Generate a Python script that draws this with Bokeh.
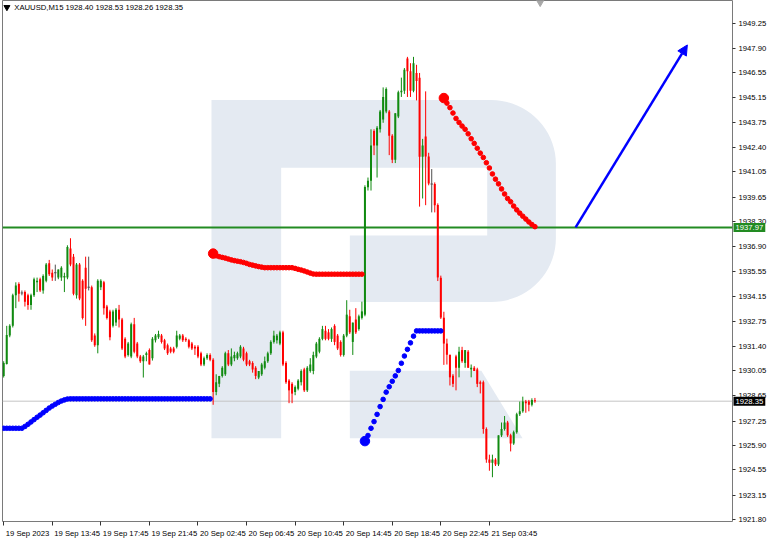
import numpy as np
from bokeh.plotting import figure
from bokeh.models import (Range1d, FixedTicker, Span, Label, Arrow, NormalHead,
                          ColumnDataSource, PrintfTickFormatter)
from bokeh.embed import file_html
from bokeh.resources import INLINE

# ---------------- data ----------------
symbol = "XAUUSD,M15"

time_labels = ["19 Sep 2023", "19 Sep 13:45", "19 Sep 17:45", "19 Sep 21:45",
               "20 Sep 02:45", "20 Sep 06:45", "20 Sep 10:45", "20 Sep 14:45",
               "20 Sep 18:45", "20 Sep 22:45", "21 Sep 03:45"]
time_label_bars = [0, 16, 32, 48, 64, 80, 96, 112, 128, 144, 160]

price_ticks = [1949.25, 1947.90, 1946.55, 1945.15, 1943.75, 1942.40, 1941.05,
               1939.65, 1938.30, 1936.90, 1935.55, 1934.15, 1932.75, 1931.40,
               1930.05, 1928.65, 1927.25, 1925.90, 1924.55, 1923.15, 1921.80]

opens = [1929.75, 1930.41, 1931.98, 1932.52, 1934.21, 1934.84, 1934.34, 1934.39, 1934.21, 1933.68,
         1934.21, 1934.93, 1935.10, 1934.48, 1935.01, 1935.99, 1935.46, 1935.46, 1935.19, 1935.19,
         1935.19, 1935.19, 1936.80, 1936.35, 1934.21, 1935.91, 1935.01, 1935.73, 1934.66, 1934.66,
         1931.98, 1931.45, 1934.66, 1934.93, 1933.59, 1933.32, 1932.52, 1932.70, 1933.41, 1932.87,
         1931.80, 1930.91, 1930.82, 1932.61, 1931.54, 1930.82, 1930.56, 1930.91, 1931.18, 1930.73,
         1931.72, 1931.89, 1931.98, 1931.72, 1931.45, 1931.27, 1931.27, 1931.36, 1931.80, 1931.98,
         1931.80, 1931.72, 1931.54, 1931.36, 1931.36, 1931.00, 1930.38, 1930.73, 1930.91, 1930.65,
         1928.86, 1929.31, 1929.75, 1929.84, 1931.00, 1930.38, 1930.73, 1930.73, 1930.82, 1931.27,
         1931.00, 1930.56, 1930.47, 1930.20, 1929.66, 1929.84, 1930.20, 1930.56, 1931.00, 1931.63,
         1931.72, 1931.54, 1932.16, 1930.47, 1929.49, 1929.31, 1928.86, 1929.04, 1929.40, 1930.11,
         1928.95, 1930.02, 1930.02, 1930.82, 1931.09, 1931.80, 1932.25, 1932.16, 1931.80, 1932.52,
         1931.98, 1931.63, 1930.91, 1931.98, 1933.05, 1931.63, 1932.87, 1932.34, 1932.96, 1933.14,
         1940.19, 1940.55, 1943.31, 1942.51, 1943.40, 1943.94, 1944.38, 1944.38, 1943.04, 1941.71,
         1944.11, 1945.45, 1945.54, 1947.32, 1946.61, 1945.54, 1946.52, 1946.26, 1941.88, 1943.00,
         1941.90, 1940.37, 1940.37, 1939.21, 1935.18, 1932.97, 1931.54, 1930.92, 1929.76, 1930.83,
         1930.20, 1931.18, 1930.47, 1931.09, 1930.11, 1930.20, 1930.11, 1929.40, 1929.40, 1926.81,
         1925.12, 1924.94, 1925.12, 1924.85, 1926.46, 1926.81, 1927.17, 1926.46, 1926.01, 1926.63,
         1927.62, 1927.79, 1928.33, 1928.33, 1928.15, 1928.40]
highs = [1930.56, 1932.52, 1932.61, 1934.30, 1934.93, 1934.93, 1934.48, 1934.48, 1934.30, 1934.30,
         1935.19, 1935.19, 1935.19, 1935.37, 1936.00, 1936.17, 1935.64, 1935.91, 1935.64, 1935.82,
         1935.46, 1936.98, 1937.37, 1936.50, 1936.00, 1936.00, 1935.10, 1936.35, 1936.35, 1934.75,
         1932.10, 1935.10, 1935.10, 1935.01, 1933.68, 1933.41, 1933.41, 1933.50, 1933.68, 1932.96,
         1931.89, 1931.63, 1932.70, 1932.96, 1931.63, 1930.91, 1930.91, 1931.09, 1931.27, 1931.90,
         1932.07, 1932.25, 1932.07, 1931.80, 1931.54, 1931.36, 1931.36, 1932.25, 1932.07, 1932.07,
         1931.89, 1931.80, 1931.63, 1931.45, 1931.45, 1931.09, 1930.82, 1931.00, 1931.00, 1930.73,
         1929.84, 1929.75, 1930.29, 1931.09, 1931.18, 1931.27, 1931.09, 1931.09, 1931.45, 1931.36,
         1931.09, 1930.64, 1930.56, 1930.29, 1930.02, 1930.47, 1930.82, 1931.09, 1931.72, 1932.25,
         1932.07, 1932.25, 1932.25, 1930.56, 1929.57, 1929.40, 1929.22, 1929.57, 1930.11, 1930.20,
         1930.29, 1930.73, 1931.09, 1931.63, 1931.89, 1932.52, 1932.52, 1932.34, 1932.43, 1932.61,
         1932.07, 1931.72, 1932.07, 1933.94, 1933.41, 1932.70, 1933.50, 1933.14, 1933.86, 1940.30,
         1940.73, 1943.40, 1943.40, 1943.58, 1944.47, 1945.72, 1945.72, 1944.47, 1943.13, 1944.29,
         1945.54, 1946.26, 1946.79, 1947.41, 1947.06, 1947.41, 1946.97, 1946.52, 1942.87, 1945.50,
         1942.10, 1941.20, 1940.46, 1939.30, 1935.30, 1933.30, 1931.81, 1930.92, 1929.85, 1930.92,
         1931.36, 1931.36, 1931.18, 1931.18, 1930.38, 1930.29, 1930.20, 1929.49, 1929.49, 1926.90,
         1925.39, 1925.39, 1925.20, 1926.46, 1927.17, 1927.53, 1927.26, 1926.55, 1926.72, 1927.71,
         1928.33, 1928.60, 1928.42, 1928.42, 1928.51, 1928.53]
lows = [1929.66, 1930.38, 1931.89, 1932.43, 1933.50, 1933.86, 1934.21, 1933.59, 1933.41, 1933.41,
        1934.12, 1934.39, 1934.39, 1934.30, 1934.93, 1935.28, 1935.01, 1935.01, 1935.10, 1935.01,
        1934.39, 1935.10, 1935.82, 1934.21, 1934.03, 1933.94, 1932.87, 1932.52, 1934.48, 1931.63,
        1931.36, 1931.00, 1934.50, 1933.14, 1932.87, 1931.72, 1932.43, 1932.52, 1932.43, 1931.18,
        1930.73, 1930.82, 1930.73, 1931.00, 1930.73, 1930.47, 1929.66, 1930.56, 1930.38, 1930.60,
        1931.60, 1931.80, 1931.54, 1931.18, 1930.91, 1931.00, 1931.00, 1931.27, 1931.72, 1931.63,
        1931.63, 1931.27, 1931.18, 1930.91, 1930.73, 1930.29, 1930.29, 1930.64, 1930.56, 1928.15,
        1928.68, 1929.13, 1929.66, 1929.75, 1930.29, 1930.29, 1930.56, 1930.64, 1930.73, 1930.56,
        1930.29, 1930.29, 1929.93, 1929.57, 1929.57, 1929.75, 1930.11, 1930.47, 1930.91, 1931.54,
        1931.54, 1931.45, 1930.29, 1929.31, 1928.24, 1928.24, 1928.68, 1928.95, 1929.22, 1928.86,
        1928.86, 1929.93, 1929.84, 1930.73, 1931.00, 1931.72, 1931.72, 1931.72, 1931.63, 1931.45,
        1931.18, 1930.82, 1930.82, 1931.89, 1932.07, 1930.91, 1932.07, 1932.25, 1932.87, 1933.05,
        1940.01, 1940.01, 1941.97, 1940.73, 1943.22, 1943.76, 1944.29, 1941.97, 1941.53, 1941.53,
        1944.02, 1945.19, 1945.36, 1945.19, 1945.19, 1945.45, 1945.00, 1939.12, 1939.57, 1939.20,
        1940.30, 1938.80, 1938.80, 1935.00, 1932.90, 1930.36, 1930.38, 1929.22, 1929.13, 1928.95,
        1929.67, 1930.47, 1930.20, 1930.20, 1929.67, 1930.02, 1929.13, 1928.78, 1926.55, 1924.94,
        1924.50, 1924.14, 1924.76, 1924.76, 1926.37, 1926.72, 1926.37, 1925.57, 1925.93, 1926.55,
        1927.53, 1927.71, 1927.71, 1927.79, 1928.06, 1928.26]
closes = [1930.47, 1932.02, 1932.52, 1934.21, 1934.75, 1934.30, 1934.34, 1933.86, 1933.68, 1934.21,
          1935.10, 1935.01, 1934.48, 1935.28, 1935.91, 1935.37, 1935.19, 1935.46, 1935.64, 1935.73,
          1935.28, 1936.89, 1935.91, 1934.30, 1935.91, 1934.03, 1932.96, 1934.57, 1934.66, 1931.72,
          1931.45, 1935.01, 1935.01, 1933.50, 1932.96, 1931.89, 1933.32, 1933.41, 1932.87, 1931.27,
          1930.82, 1931.54, 1932.61, 1931.09, 1930.82, 1930.56, 1930.82, 1931.00, 1930.38, 1931.80,
          1931.98, 1932.07, 1931.63, 1931.27, 1931.00, 1931.09, 1931.09, 1931.98, 1931.98, 1931.72,
          1931.72, 1931.36, 1931.27, 1931.27, 1930.82, 1930.38, 1930.73, 1930.91, 1930.65, 1928.86,
          1929.40, 1929.75, 1930.20, 1931.00, 1930.38, 1930.82, 1930.91, 1931.00, 1931.36, 1930.65,
          1930.38, 1930.38, 1930.11, 1929.75, 1930.02, 1930.38, 1930.56, 1931.00, 1931.63, 1931.98,
          1931.98, 1932.16, 1930.38, 1929.40, 1928.95, 1928.77, 1929.13, 1929.49, 1930.02, 1928.95,
          1930.20, 1930.38, 1930.91, 1931.54, 1931.80, 1932.34, 1931.80, 1931.80, 1932.34, 1931.63,
          1931.27, 1930.91, 1931.98, 1933.14, 1932.16, 1932.70, 1932.16, 1933.05, 1933.32, 1940.21,
          1940.55, 1942.51, 1942.51, 1943.49, 1944.38, 1945.19, 1945.63, 1943.04, 1941.71, 1944.29,
          1945.45, 1945.54, 1946.70, 1946.61, 1945.54, 1947.06, 1946.08, 1941.88, 1942.51, 1941.90,
          1940.40, 1940.37, 1939.20, 1935.20, 1932.98, 1931.54, 1930.92, 1929.67, 1929.31, 1930.20,
          1931.09, 1930.56, 1931.18, 1930.20, 1930.20, 1930.02, 1929.31, 1929.31, 1926.81, 1925.12,
          1924.94, 1925.12, 1924.85, 1926.46, 1926.81, 1927.17, 1926.46, 1926.01, 1926.63, 1927.62,
          1927.79, 1928.33, 1928.24, 1928.15, 1928.42, 1928.35]

# trend indicator (dots) -- four segments
blue1_start = 0
blue1 = [1926.85, 1926.85, 1926.85, 1926.85, 1926.85, 1926.85, 1926.85, 1926.95, 1927.07, 1927.20,
         1927.33, 1927.46, 1927.58, 1927.71, 1927.84, 1927.97, 1928.08, 1928.18, 1928.28, 1928.36,
         1928.42, 1928.47, 1928.48, 1928.48, 1928.48, 1928.48, 1928.48, 1928.48, 1928.48, 1928.48,
         1928.48, 1928.48, 1928.48, 1928.48, 1928.48, 1928.48, 1928.48, 1928.48, 1928.48, 1928.48,
         1928.48, 1928.48, 1928.48, 1928.48, 1928.48, 1928.48, 1928.48, 1928.48, 1928.48, 1928.48,
         1928.48, 1928.48, 1928.48, 1928.48, 1928.48, 1928.48, 1928.48, 1928.48, 1928.48, 1928.48,
         1928.48, 1928.48, 1928.48, 1928.48, 1928.48, 1928.48, 1928.48, 1928.48, 1928.48]
red1_start = 69
red1 = [1936.52, 1936.40, 1936.35, 1936.31, 1936.27, 1936.22, 1936.17, 1936.13, 1936.10, 1936.07,
        1936.03, 1935.98, 1935.92, 1935.88, 1935.84, 1935.80, 1935.77, 1935.74, 1935.74, 1935.74,
        1935.74, 1935.74, 1935.74, 1935.74, 1935.74, 1935.74, 1935.74, 1935.70, 1935.65, 1935.61,
        1935.56, 1935.50, 1935.44, 1935.39, 1935.38, 1935.38, 1935.38, 1935.38, 1935.38, 1935.38,
        1935.38, 1935.38, 1935.38, 1935.38, 1935.38, 1935.38, 1935.38, 1935.38, 1935.38, 1935.38]
blue2_start = 119
blue2 = [1926.14, 1926.45, 1926.85, 1927.22, 1927.62, 1928.05, 1928.45, 1928.85, 1929.15, 1929.45,
         1929.75, 1930.05, 1930.45, 1930.85, 1931.22, 1931.58, 1931.95, 1932.24, 1932.24, 1932.24,
         1932.24, 1932.24, 1932.24, 1932.24, 1932.24, 1932.24]
red2_start = 145
red2 = [1945.13, 1944.85, 1944.60, 1944.30, 1944.00, 1943.78, 1943.58, 1943.40, 1943.15, 1942.88,
        1942.62, 1942.35, 1942.08, 1941.84, 1941.55, 1941.26, 1940.93, 1940.64, 1940.38, 1940.10,
        1939.82, 1939.57, 1939.39, 1939.15, 1938.94, 1938.76, 1938.59, 1938.43, 1938.27, 1938.13,
        1938.01]

level_price = 1937.97
arrow_bars = [188.4, 225.2]
arrow_prices = [1937.97, 1948.07]

# ---------------- style ----------------
GREEN = "#108a10"
RED = "#ff0000"
DOJI = "#505050"
BLUE = "#0000ff"
LEVEL = "#228b22"
WM = "#e4eaf2"
FONT = "Liberation Sans"
FS = "7.7px"

X0, X1 = -0.39, 240.08
Y0, Y1 = 1921.69, 1950.53
FRAME_W, FRAME_H = 730, 521

p = figure(frame_width=FRAME_W, frame_height=FRAME_H, output_backend="svg", toolbar_location=None,
           x_range=Range1d(X0, X1), y_range=Range1d(Y0, Y1),
           y_axis_location="right", x_axis_location="below",
           min_border_left=2, min_border_right=0, min_border_top=0, min_border_bottom=0,
           background_fill_color="white", border_fill_color="white",
           outline_line_color="#7a7a7a", outline_line_width=1)
p.grid.visible = False

# watermark coordinate system (reference-pixel frame coordinates)
p.extra_x_ranges = {"wx": Range1d(2, 746)}
p.extra_y_ranges = {"wy": Range1d(539, 0)}


def arc(cx, cy, r, a0, a1, n=20):
    t = np.radians(np.linspace(a0, a1, n))
    return list(cx + r * np.cos(t)), list(cy + r * np.sin(t))


ax1, ay1 = arc(500, 169, 66, -90, 0)
ax2, ay2 = arc(500, 246, 66, 0, 90)
wm_x = [215] + ax1 + ax2 + [356, 356, 496, 496, 286, 286, 215]
wm_y = [103] + ay1 + ay2 + [312, 243, 243, 173, 173, 453, 453]
p.patch(wm_x, wm_y, x_range_name="wx", y_range_name="wy",
        fill_color=WM, line_color=None, level="underlay")
p.patch([356, 490, 532, 356], [383, 383, 453, 453], x_range_name="wx", y_range_name="wy",
        fill_color=WM, line_color=None, level="underlay")

# horizontal lines
p.add_layout(Span(location=closes[-1], dimension="width", line_color="#c4c4c4",
                  line_width=1, level="underlay"))
p.add_layout(Span(location=level_price, dimension="width", line_color=LEVEL,
                  line_width=2, level="underlay"))

# candles
o = np.array(opens); h = np.array(highs); l = np.array(lows); c = np.array(closes)
x = np.arange(len(o))
col = np.where(c > o, GREEN, np.where(c < o, RED, DOJI))
src = ColumnDataSource(dict(x=x, h=np.maximum(h, np.maximum(o, c)),
                            l=np.minimum(l, np.minimum(o, c)),
                            top=np.maximum(o, c), bottom=np.minimum(o, c), color=col))
p.segment(x0="x", y0="h", x1="x", y1="l", line_color="color", line_width=1, source=src)
p.vbar(x="x", width=0.66, top="top", bottom="bottom", fill_color="color",
       line_color=None, source=src)
eq = c == o
p.segment(x0=x[eq] - 0.4, y0=o[eq], x1=x[eq] + 0.4, y1=o[eq], line_color=DOJI, line_width=1)

# indicator dots
for start, series, colr in [(blue1_start, blue1, BLUE), (red1_start, red1, RED),
                            (blue2_start, blue2, BLUE), (red2_start, red2, RED)]:
    xs = list(range(start, start + len(series)))
    p.scatter(xs, series, size=4.6, color=colr, marker="circle")
    if start > 0:
        p.scatter([xs[0]], [series[0]], size=9.5, color=colr, marker="circle")

# forecast arrow
p.add_layout(Arrow(end=NormalHead(size=10, fill_color=BLUE, line_color=BLUE),
                   x_start=arrow_bars[0], y_start=arrow_prices[0],
                   x_end=arrow_bars[1], y_end=arrow_prices[1],
                   line_color=BLUE, line_width=2.5))

# ---------------- axes ----------------
yax = p.yaxis[0]
yax.ticker = FixedTicker(ticks=price_ticks, minor_ticks=[])
yax.formatter = PrintfTickFormatter(format="%.2f")
yax.major_tick_out = 3
yax.major_tick_in = 0
yax.major_tick_line_color = "#333333"
yax.minor_tick_line_color = None
yax.axis_line_color = None
yax.major_label_standoff = 3
yax.major_label_text_font = FONT
yax.major_label_text_font_size = FS
yax.major_label_text_color = "#000000"

CW = {" ": 0.278, ":": 0.278, "S": 0.667, "e": 0.556, "p": 0.556}
fs_px = float(FS[:-2])


def text_w(s):
    return sum(CW.get(ch, 0.556) for ch in s) * fs_px


px_per_bar = FRAME_W / (X1 - X0)
centers = [round(b + (text_w(s) / 2 + 2) / px_per_bar, 4) for b, s in zip(time_label_bars, time_labels)]
xax = p.xaxis[0]
xax.ticker = FixedTicker(ticks=centers, minor_ticks=time_label_bars)
xax.major_label_overrides = {cc: s for cc, s in zip(centers, time_labels)}
xax.major_tick_line_color = None
xax.major_tick_out = 0
xax.major_tick_in = 0
xax.minor_tick_out = 4
xax.minor_tick_in = 0
xax.minor_tick_line_color = "#333333"
xax.axis_line_color = None
xax.major_label_standoff = 3
xax.major_label_text_font = FONT
xax.major_label_text_font_size = FS
xax.major_label_text_color = "#000000"

# price boxes on the axis: placed in the right side panel so they are not clipped to the frame
for val, bg in [(level_price, LEVEL), (closes[-1], "#000000")]:
    p.add_layout(Label(x=X1, y=val, x_offset=1, text=f"{val:.2f}",
                       text_baseline="middle", text_align="left",
                       text_color="white", text_font=FONT, text_font_size=FS,
                       background_fill_color=bg, padding=2), "right")

# header
header = f"{symbol}  {opens[-1]:.2f} {highs[-1]:.2f} {lows[-1]:.2f} {closes[-1]:.2f}"
p.scatter([6.5], [7], x_range_name="wx", y_range_name="wy", marker="inverted_triangle",
          size=6, color="#000000")
p.add_layout(Label(x=14, y=7, x_range_name="wx", y_range_name="wy", text=header,
                   text_baseline="middle", text_align="left", text_color="#000000",
                   text_font=FONT, text_font_size=FS))
p.scatter([550], [1.5], x_range_name="wx", y_range_name="wy", marker="inverted_triangle",
          size=8, color="#a8a8a8")

open("out.html", "w").write(file_html(p, INLINE))
